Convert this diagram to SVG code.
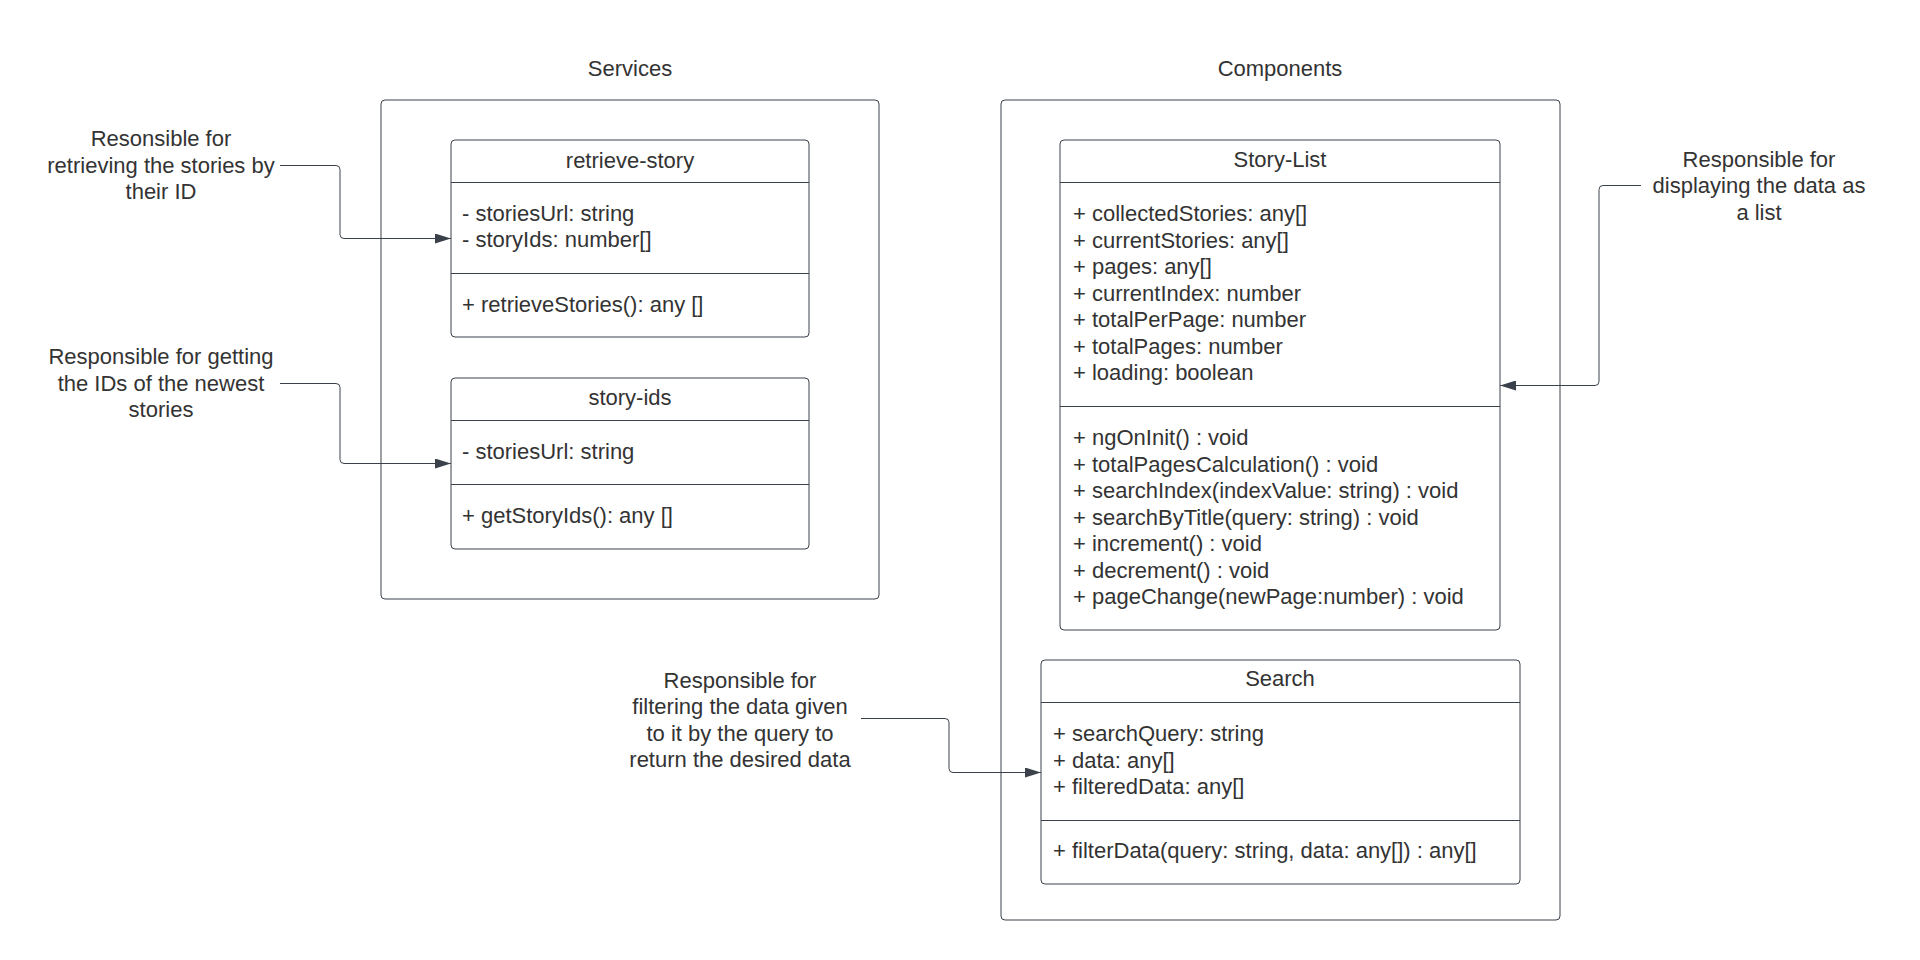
<svg xmlns="http://www.w3.org/2000/svg" width="1920" height="960" viewBox="0 0 1920 960">
<defs>
<style>
text{font-family:"Liberation Sans",Arial,sans-serif;font-size:22px;fill:#333333}
.c{text-anchor:middle}
.box{fill:#ffffff;stroke:#3a414a;stroke-width:1}
.cont{fill:none;stroke:#3a414a;stroke-width:1}
.div{stroke:#3a414a;stroke-width:1}
.conn{fill:none;stroke:#3a414a;stroke-width:1;marker-end:url(#arrow)}
</style>
<marker id="arrow" markerUnits="userSpaceOnUse" markerWidth="16" markerHeight="10" refX="16" refY="5" orient="auto">
<path d="M0,0 L16,5 L0,10 z" fill="#3a414a"/>
</marker>
</defs>
<rect width="1920" height="960" fill="#ffffff"/>

<g id="services">
<text class="c" x="630" y="76">Services</text>
<rect class="cont" x="381" y="100" width="498" height="499" rx="4"/>
</g>

<g id="components">
<text class="c" x="1280" y="76">Components</text>
<rect class="cont" x="1001" y="100" width="559" height="820" rx="4"/>
</g>

<g id="retrieve-story">
<rect class="box" x="451" y="140" width="358" height="197" rx="4"/>
<line class="div" x1="451" y1="182.5" x2="809" y2="182.5"/>
<line class="div" x1="451" y1="273.5" x2="809" y2="273.5"/>
<text class="c" x="630" y="167.5">retrieve-story</text>
<text x="462" y="220.5">- storiesUrl: string</text>
<text x="462" y="247">- storyIds: number[]</text>
<text x="462" y="312">+ retrieveStories(): any []</text>
</g>

<g id="story-ids">
<rect class="box" x="451" y="378" width="358" height="171" rx="4"/>
<line class="div" x1="451" y1="420.5" x2="809" y2="420.5"/>
<line class="div" x1="451" y1="484.5" x2="809" y2="484.5"/>
<text class="c" x="630" y="405">story-ids</text>
<text x="462" y="458.5">- storiesUrl: string</text>
<text x="462" y="523">+ getStoryIds(): any []</text>
</g>

<g id="story-list">
<rect class="box" x="1060" y="140" width="440" height="490" rx="4"/>
<line class="div" x1="1060" y1="182.5" x2="1500" y2="182.5"/>
<line class="div" x1="1060" y1="406.5" x2="1500" y2="406.5"/>
<text class="c" x="1280" y="166.5">Story-List</text>
<text x="1073" y="221">+ collectedStories: any[]</text>
<text x="1073" y="247.5">+ currentStories: any[]</text>
<text x="1073" y="274">+ pages: any[]</text>
<text x="1073" y="300.5">+ currentIndex: number</text>
<text x="1073" y="327">+ totalPerPage: number</text>
<text x="1073" y="353.5">+ totalPages: number</text>
<text x="1073" y="380">+ loading: boolean</text>
<text x="1073" y="445">+ ngOnInit() : void</text>
<text x="1073" y="471.5">+ totalPagesCalculation() : void</text>
<text x="1073" y="498">+ searchIndex(indexValue: string) : void</text>
<text x="1073" y="524.5">+ searchByTitle(query: string) : void</text>
<text x="1073" y="551">+ increment() : void</text>
<text x="1073" y="577.5">+ decrement() : void</text>
<text x="1073" y="604">+ pageChange(newPage:number) : void</text>
</g>

<g id="search">
<rect class="box" x="1041" y="660" width="479" height="224" rx="4"/>
<line class="div" x1="1041" y1="702.5" x2="1520" y2="702.5"/>
<line class="div" x1="1041" y1="820.5" x2="1520" y2="820.5"/>
<text class="c" x="1280" y="686">Search</text>
<text x="1053" y="741">+ searchQuery: string</text>
<text x="1053" y="767.5">+ data: any[]</text>
<text x="1053" y="794">+ filteredData: any[]</text>
<text x="1053" y="858">+ filterData(query: string, data: any[]) : any[]</text>
</g>

<g id="note-retrieve">
<text class="c" x="161" y="146">Resonsible for</text>
<text class="c" x="161" y="172.5">retrieving the stories by</text>
<text class="c" x="161" y="199">their ID</text>
</g>

<g id="note-ids">
<text class="c" x="161" y="364">Responsible for getting</text>
<text class="c" x="161" y="390.5">the IDs of the newest</text>
<text class="c" x="161" y="417">stories</text>
</g>

<g id="note-list">
<text class="c" x="1759" y="166.5">Responsible for</text>
<text class="c" x="1759" y="193">displaying the data as</text>
<text class="c" x="1759" y="219.5">a list</text>
</g>

<g id="note-search">
<text class="c" x="740" y="687.5">Responsible for</text>
<text class="c" x="740" y="714">filtering the data given</text>
<text class="c" x="740" y="740.5">to it by the query to</text>
<text class="c" x="740" y="767">return the desired data</text>
</g>

<g id="connectors">
<path class="conn" d="M280,165.5 H336 Q340,165.5 340,169.5 V234.5 Q340,238.5 344,238.5 H451"/>
<path class="conn" d="M280,383.5 H336 Q340,383.5 340,387.5 V459.5 Q340,463.5 344,463.5 H451"/>
<path class="conn" d="M1641,185.5 H1603 Q1599,185.5 1599,189.5 V381.5 Q1599,385.5 1595,385.5 H1500"/>
<path class="conn" d="M861,718.5 H945 Q949,718.5 949,722.5 V768.5 Q949,772.5 953,772.5 H1041"/>
</g>
</svg>
